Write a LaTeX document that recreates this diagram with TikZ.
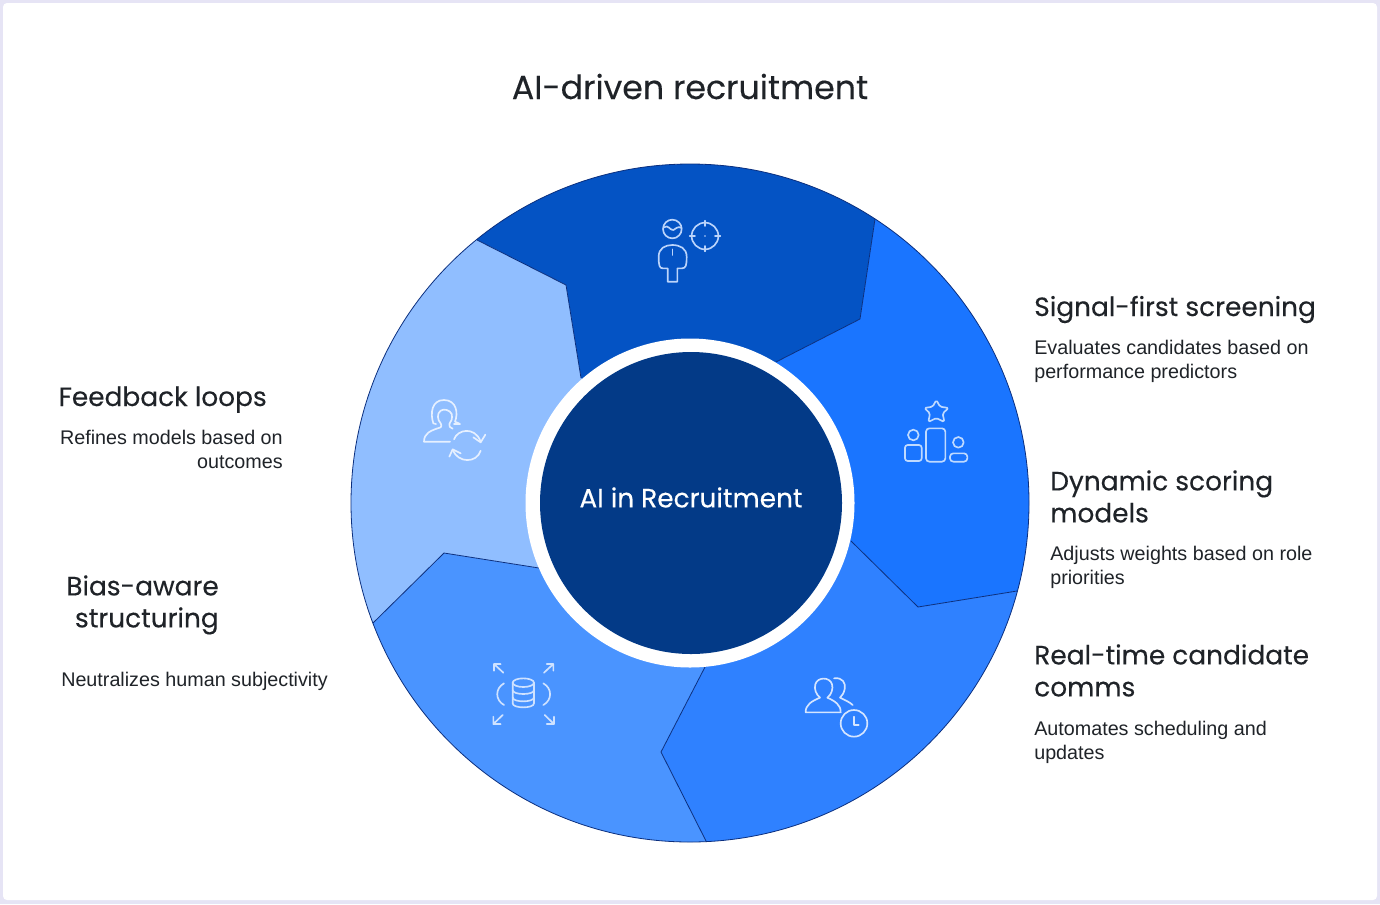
\documentclass[tikz,border=0pt]{standalone}
\usepackage{fontspec}
\setmainfont{Liberation Sans}
\newfontfamily\popp[FakeBold=0.25]{Poppins}
\definecolor{pagebg}{HTML}{E6E4F5}
\definecolor{segtop}{HTML}{0453C4}
\definecolor{segright}{HTML}{1A75FF}
\definecolor{segbr}{HTML}{2F81FF}
\definecolor{segbl}{HTML}{4A94FF}
\definecolor{segleft}{HTML}{90BEFF}
\definecolor{core}{HTML}{033A87}
\definecolor{edge}{HTML}{0B2F7E}
\definecolor{ink}{HTML}{1F2328}
\definecolor{icona}{HTML}{BBD4FB}
\definecolor{iconb}{HTML}{BFDAFF}
\definecolor{iconc}{HTML}{D5E5FF}
\definecolor{icond}{HTML}{CFE2FF}
\definecolor{icone}{HTML}{E6F0FF}
\tikzset{
  title/.style={font=\popp\fontsize{24.9}{32}\selectfont,text=ink,inner sep=0pt},
  head/.style={font=\popp\fontsize{19.8}{24}\selectfont,text=ink,inner sep=0pt},
  body/.style={font=\fontsize{14.8}{18}\selectfont,text=ink,inner sep=0pt},
  divider/.style={draw=edge,line width=0.6pt,line join=round},
  icon/.style={draw=#1,line width=1.25pt,line cap=round,line join=round}
}
\begin{document}
\begin{tikzpicture}[x=0.75pt,y=-0.75pt]
\useasboundingbox (0,0) rectangle (1380,904);
\fill[pagebg] (0,0) rectangle (1380,904);
\fill[white,rounded corners=3pt] (3,3) rectangle (1377,900);
% ring
\coordinate (c) at (690,503);
\coordinate (a1) at (477,240); \coordinate (a2) at (566,285); \coordinate (a3) at (581,378);
\coordinate (b1) at (875,219); \coordinate (b2) at (860,319); \coordinate (b3) at (776,362);
\coordinate (d1) at (1017,591); \coordinate (d2) at (918,607); \coordinate (d3) at (851,541);
\coordinate (e1) at (706,841); \coordinate (e2) at (661,752); \coordinate (e3) at (705,667);
\coordinate (f1) at (373,623); \coordinate (f2) at (444,553); \coordinate (f3) at (539,568);
\begin{scope}
\clip (c) circle [radius=339];
\fill[segtop] (a1)--(a2)--(a3)--(c)--(b3)--(b2)--(b1)--(1000,27)--(264,-23)--cycle;
\fill[segright] (b1)--(b2)--(b3)--(c)--(d3)--(d2)--(d1)--(1300,545)--(1300,0)--(1000,27)--cycle;
\fill[segbr] (d1)--(d2)--(d3)--(c)--(e3)--(e2)--(e1)--(715,1050)--(1300,1050)--(1300,545)--cycle;
\fill[segbl] (e1)--(e2)--(e3)--(c)--(f3)--(f2)--(f1)--(100,900)--(715,1050)--cycle;
\fill[segleft] (f1)--(f2)--(f3)--(c)--(a3)--(a2)--(a1)--(264,-23)--(100,-23)--(100,900)--cycle;
\end{scope}
\draw[divider] (a1)--(a2)--(a3);
\draw[divider] (b1)--(b2)--(b3);
\draw[divider] (d1)--(d2)--(d3);
\draw[divider] (e1)--(e2)--(e3);
\draw[divider] (f1)--(f2)--(f3);
\draw[divider] (c) circle [radius=339];
\fill[white] (c) circle [radius=164.5];
\node[circle,fill=core,minimum size=226.5pt,inner sep=0pt,text=white,font=\popp\fontsize{19.8}{24}\selectfont] (hub) at (691,503) {\raisebox{8.5pt}{AI in Recruitment}};
% title
\node[title,anchor=base] (ttl) at (690,99) {AI-driven recruitment};
% right texts
\node[head,anchor=base west] (h1) at (1034,316) {Signal-first screening};
\node[body,anchor=north west,align=left] (t1) at (1034,340) {Evaluates candidates based on\\performance predictors};
\node[head,anchor=north west,align=left] (h2) at (1050,470) {Dynamic scoring\\models};
\node[body,anchor=north west,align=left] (t2) at (1050,546) {Adjusts weights based on role\\priorities};
\node[head,anchor=north west,align=left] (h3) at (1034,644) {Real-time candidate\\comms};
\node[body,anchor=north west,align=left] (t3) at (1034,721) {Automates scheduling and\\updates};
% left texts
\node[head,anchor=base east] (h4) at (267,406) {Feedback loops};
\node[body,anchor=north east,align=right] (t4) at (283,430) {Refines models based on\\outcomes};
\node[head,anchor=north east,align=right] (h5) at (219,575) {Bias-aware\\structuring};
\node[body,anchor=base west] (t5) at (61,686) {Neutralizes human subjectivity};
% icon: person with target
\begin{scope}[shift={(640,200)},x=0.25pt,y=-0.25pt,icon=icona]
\draw (97,87) circle [radius=28];
\draw (72,82) .. controls (85,72) and (90,92) .. (100,90) .. controls (108,88) and (112,76) .. (125,84);
\draw (83,245) -- (83,205) -- (68,205) .. controls (58,205) and (56,195) .. (56,170) .. controls (56,145) and (75,135) .. (97,135) .. controls (120,135) and (140,145) .. (140,170) .. controls (140,195) and (138,205) .. (126,205) -- (112,205) -- (112,245) -- cycle;
\draw (97,148) -- (97,165);
\draw (195,108) circle [radius=40];
\draw (195,62) -- (195,78) (195,138) -- (195,154) (149,108) -- (165,108) (225,108) -- (241,108);
\fill[icona] (195,108) circle [radius=2.5];
\end{scope}
% icon: podium with star
\begin{scope}[shift={(890,390)},x=0.25pt,y=-0.25pt,icon=iconb]
\draw[rounded corners=1.2pt] (139,30)--(150,50)--(176,54)--(158,70)--(163,96)--(139,84)--(115,96)--(120,70)--(103,54)--(128,50)--cycle;
\draw (70,135) circle [radius=16];
\draw[rounded corners=2pt] (45,165) rectangle (95,213);
\draw[rounded corners=2.5pt] (108,115) rectangle (166,215);
\draw (205,157) circle [radius=16];
\draw[rounded corners=2.5pt] (180,190) rectangle (232,215);
\end{scope}
% icon: people with clock
\begin{scope}[shift={(790,665)},x=0.25pt,y=-0.25pt,icon=iconc]
\draw (47,142) -- (152,142) .. controls (153,120) and (135,108) .. (112,98) .. controls (125,88) and (130,70) .. (126,58) .. controls (120,35) and (82,35) .. (76,58) .. controls (72,72) and (78,88) .. (90,98) .. controls (65,108) and (46,120) .. (47,142) -- cycle;
\draw (132,40) .. controls (158,36) and (168,55) .. (164,72) .. controls (162,85) and (155,92) .. (150,98) .. controls (165,105) and (180,112) .. (188,120);
\draw (192,175) circle [radius=40];
\draw (192,155) -- (192,180) -- (206,180);
\end{scope}
% icon: database with arrows
\begin{scope}[shift={(480,650)},x=0.25pt,y=-0.25pt,icon=icond]
\draw (130,98) ellipse [x radius=32,y radius=13];
\draw (98,98) -- (98,160) .. controls (98,176) and (162,176) .. (162,160) -- (162,98);
\draw (98,120) .. controls (98,136) and (162,136) .. (162,120);
\draw (98,142) .. controls (98,158) and (162,158) .. (162,142);
\draw (72,100) .. controls (45,115) and (45,150) .. (72,165);
\draw (190,100) .. controls (217,115) and (217,150) .. (190,165);
\draw (70,68) -- (42,42) (42,62) -- (42,42) -- (62,42);
\draw (192,68) -- (220,42) (200,42) -- (220,42) -- (220,62);
\draw (68,195) -- (40,222) (40,200) -- (40,222) -- (62,222);
\draw (194,195) -- (222,222) (222,200) -- (222,222) -- (200,222);
\end{scope}
% icon: person with sync arrows
\begin{scope}[shift={(410,390)},x=0.25pt,y=-0.25pt,icon=icone]
\draw (120,155) -- (42,155) .. controls (42,130) and (60,122) .. (92,112) .. controls (95,108) and (95,105) .. (92,100) .. controls (82,90) and (80,70) .. (92,62) .. controls (102,55) and (120,60) .. (125,72) .. controls (128,85) and (124,95) .. (118,102) .. controls (116,110) and (120,112) .. (128,116);
\draw (78,102) -- (70,100) .. controls (60,70) and (65,30) .. (102,30) .. controls (140,30) and (145,70) .. (135,95) .. controls (140,98) and (148,100) .. (150,102) -- (132,102);
\draw (132,148) .. controls (142,118) and (195,108) .. (212,155);
\draw (190,142) -- (212,157) -- (226,134);
\draw (212,182) .. controls (200,220) and (145,220) .. (128,180);
\draw (118,200) -- (128,178) -- (152,190);
\end{scope}
\end{tikzpicture}
\end{document}
